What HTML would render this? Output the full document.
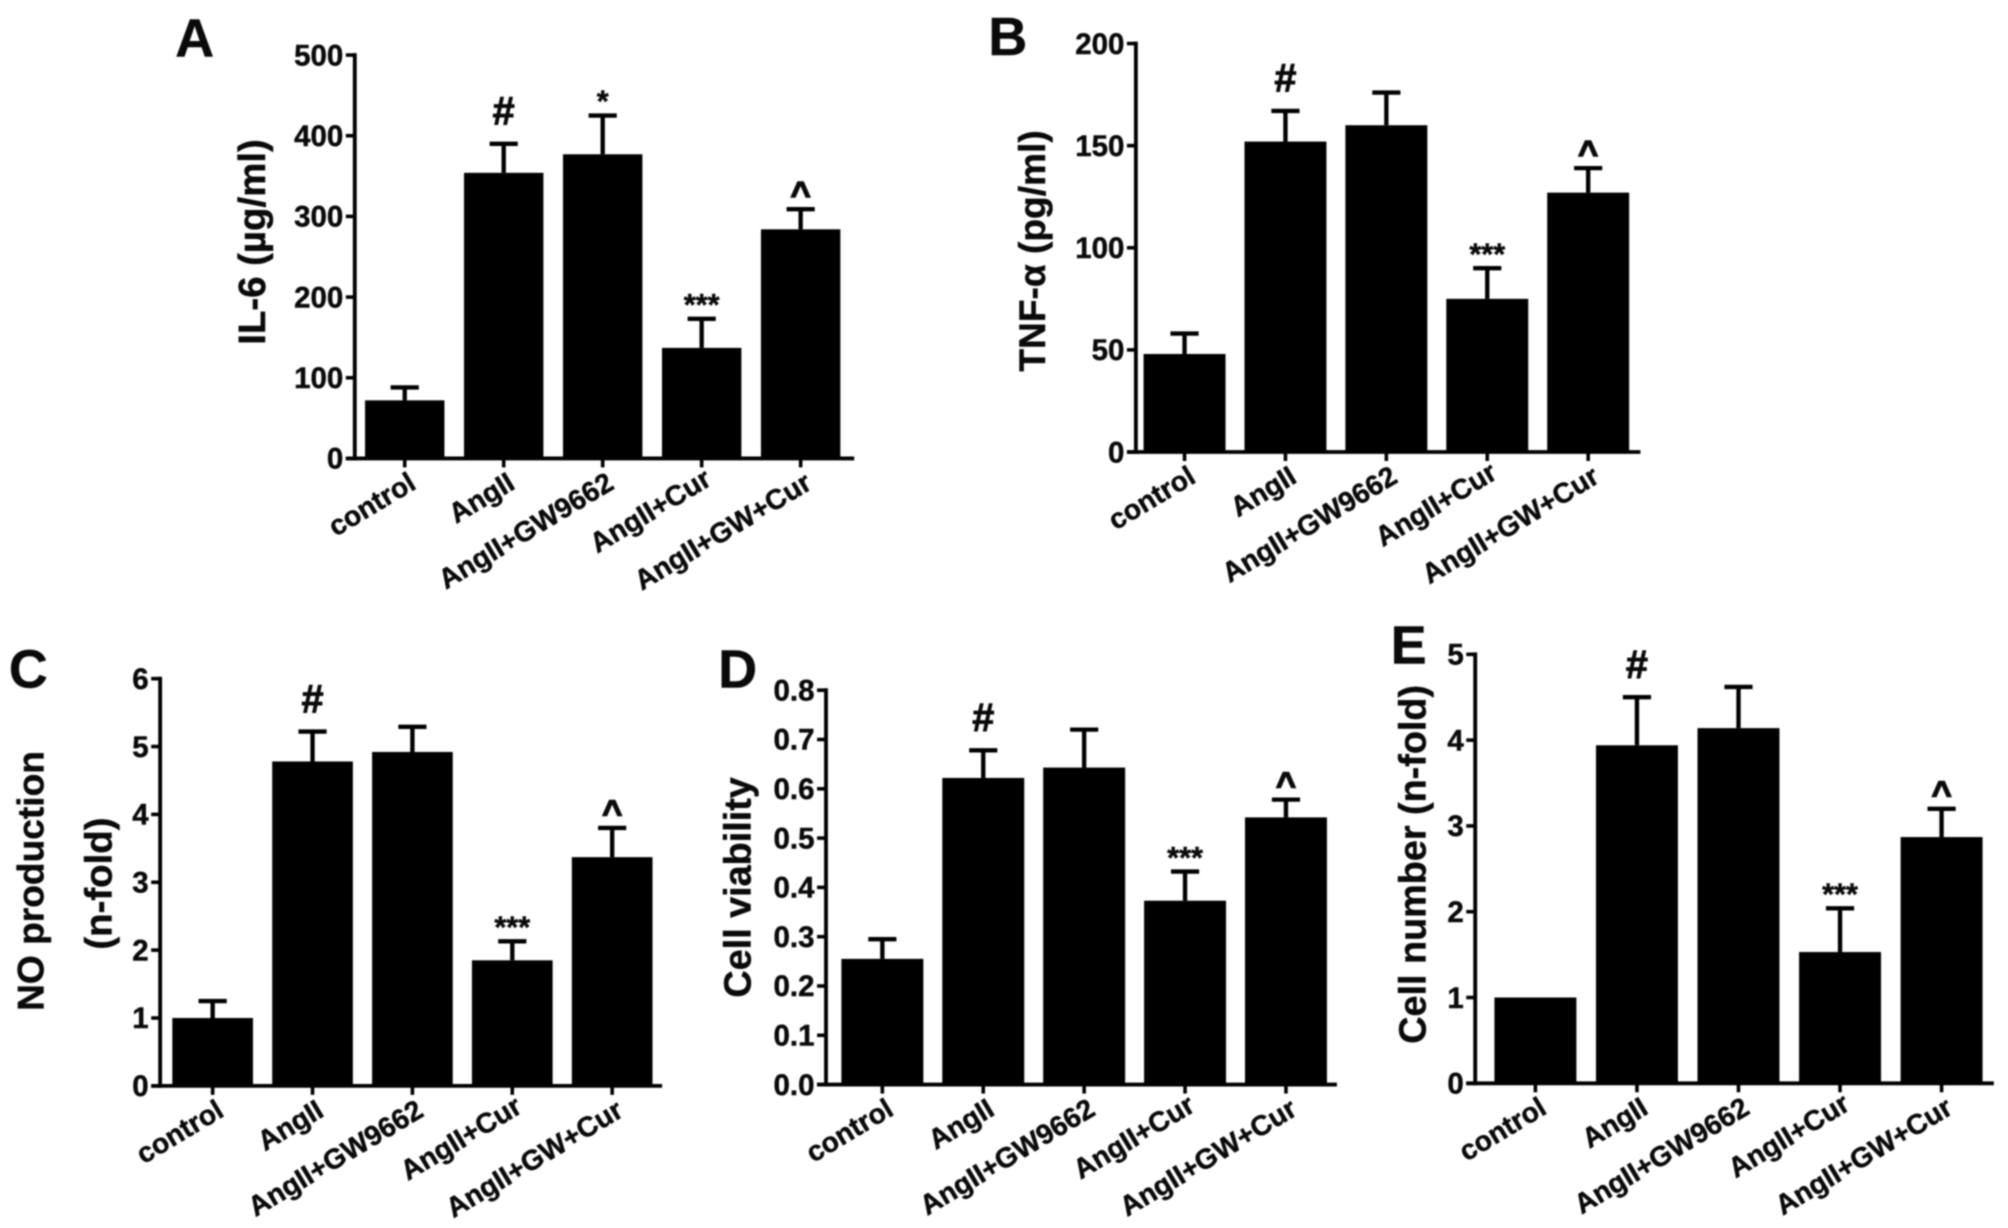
<!DOCTYPE html>
<html>
<head>
<meta charset="utf-8">
<title>Five panel bar charts</title>
<style>
html,body{margin:0;padding:0;background:#fff;}
svg{display:block;filter:blur(0.7px);}
text{font-family:"Liberation Sans",sans-serif;font-weight:bold;fill:#0a0a0a;stroke:#0a0a0a;stroke-width:0.35px;}
</style>
</head>
<body>
<svg id="figure" xmlns="http://www.w3.org/2000/svg" width="2008" height="1228" viewBox="0 0 1568 959"></svg>
<script>
const categories = ["control","AngII","AngII+GW9662","AngII+Cur","AngII+GW+Cur"];

const valuesA = [72,354,377,137,284];
const errorTopsA = [88,390,425,173,309];
const marksA = ["","#","*","***","^"];
const ticksA = ["0","100","200","300","400","500"];

const valuesB = [48,152,160,75,127];
const errorTopsB = [58,167,176,90,139];
const marksB = ["","#","","***","^"];
const ticksB = ["0","50","100","150","200"];

const valuesC = [1,4.78,4.92,1.85,3.37];
const errorTopsC = [1.25,5.22,5.29,2.13,3.8];
const marksC = ["","#","","***","^"];
const ticksC = ["0","1","2","3","4","5","6"];

const valuesD = [0.255,0.622,0.643,0.373,0.542];
const errorTopsD = [0.295,0.678,0.72,0.432,0.578];
const marksD = ["","#","","***","^"];
const ticksD = ["0.0","0.1","0.2","0.3","0.4","0.5","0.6","0.7","0.8"];

const valuesE = [1,3.94,4.14,1.53,2.87];
const errorTopsE = [1,4.5,4.62,2.04,3.2];
const marksE = ["","#","","***","^"];
const ticksE = ["0","1","2","3","4","5"];

const NS = "http://www.w3.org/2000/svg";
const root = document.getElementById("figure");

function make(tag, attrs, parent, txt) {
  const el = document.createElementNS(NS, tag);
  for (const k in attrs) el.setAttribute(k, attrs[k]);
  if (txt !== undefined) el.textContent = txt;
  parent.appendChild(el);
  return el;
}

function drawPanel(p) {
  const g = make("g", {}, root);
  
  

  const maxV = parseFloat(p.ticks[p.ticks.length - 1]);
  const y = v => p.y0 - (v / maxV) * (p.y0 - p.yTop);
  const x = i => p.x0 + i * p.step;

  const letter = make("text", {x: p.letter[0], y: p.letter[1], "font-size": 42, "text-anchor": "middle"}, g, p.id);
  
  

  p.title.forEach(function (t) {
    const title = make("text", {x: 0, y: 0, "font-size": t.size, "text-anchor": "middle",
      transform: "translate(" + t.x + "," + t.y + ") rotate(-90)"}, g, t.text);
    
    
  });

  p.values.forEach(function (v, i) {
    const bar = make("rect", {x: x(i) - p.barW / 2, y: y(v), width: p.barW, height: p.y0 - y(v), fill: "#000"}, g);
    
    

    if (p.errs[i] > v) {
      const stem = make("line", {x1: x(i), x2: x(i), y1: y(v), y2: y(p.errs[i]), stroke: "#000", "stroke-width": 3.4}, g);
      
      
      const cap = make("line", {x1: x(i) - 11, x2: x(i) + 11, y1: y(p.errs[i]), y2: y(p.errs[i]), stroke: "#000", "stroke-width": 3.4}, g);
      
      
    }

    const m = p.marks[i];
    if (m) {
      const size = m === "#" ? 31 : (m === "^" ? 27 : 24);
      const off = m === "#" ? 15 : 3;
      const mark = make("text", {x: x(i), y: y(p.errs[i]) - off, "font-size": size, "text-anchor": "middle",
        style: m === "^" ? "stroke-width:1.1px" : (m === "#" ? "stroke-width:0.7px" : "")}, g, m);
      
      
    }

    const tick = make("line", {x1: x(i), x2: x(i), y1: p.y0, y2: p.y0 + 7, stroke: "#000", "stroke-width": 2.8}, g);
    
    

    const isCur = categories[i] === "AngII+Cur";
    const lbl = make("text", {x: 0, y: 0, "font-size": 22, "text-anchor": "end",
      transform: "translate(" + (x(i) + (isCur ? 9 : 10)) + "," + (p.y0 + (isCur ? 20 : 23)) + ") rotate(-31)"}, g, categories[i]);
    
    
  });

  const yAxis = make("line", {x1: p.axisX, x2: p.axisX, y1: p.yTop - 1.5, y2: p.y0 + 1.5, stroke: "#000", "stroke-width": 3}, g);
  
  
  const xAxis = make("line", {x1: p.axisX - 7, x2: p.xEnd, y1: p.y0, y2: p.y0, stroke: "#000", "stroke-width": 3}, g);
  
  

  p.ticks.forEach(function (t) {
    const v = parseFloat(t);
    const tk = make("line", {x1: p.axisX - 7, x2: p.axisX, y1: y(v), y2: y(v), stroke: "#000", "stroke-width": 2.8}, g);
    
    
    const lb = make("text", {x: p.axisX - 9, y: y(v) + 8, "font-size": 23, "text-anchor": "end"}, g, t);
    
    
  });
}

drawPanel({id:"A", values:valuesA, errs:errorTopsA, marks:marksA, ticks:ticksA,
  axisX:277, xEnd:667, y0:358, yTop:43, x0:316, step:77.3, barW:62, letter:[152,44],
  title:[{text:"IL-6 (µg/ml)", x:207, y:189, size:30}]});
drawPanel({id:"B", values:valuesB, errs:errorTopsB, marks:marksB, ticks:ticksB,
  axisX:887, xEnd:1281, y0:353, yTop:34, x0:925, step:78.8, barW:64, letter:[787,43],
  title:[{text:"TNF-α (pg/ml)", x:816, y:196, size:29}]});
drawPanel({id:"C", values:valuesC, errs:errorTopsC, marks:marksC, ticks:ticksC,
  axisX:125, xEnd:517, y0:848, yTop:530, x0:166, step:78, barW:63, letter:[22,537],
  title:[{text:"NO production", x:34, y:688, size:29},{text:"(n-fold)", x:87, y:690, size:30}]});
drawPanel({id:"D", values:valuesD, errs:errorTopsD, marks:marksD, ticks:ticksD,
  axisX:645, xEnd:1044, y0:847, yTop:539, x0:689, step:78.8, barW:64, letter:[576,537],
  title:[{text:"Cell viability", x:586, y:693, size:29.5}]});
drawPanel({id:"E", values:valuesE, errs:errorTopsE, marks:marksE, ticks:ticksE,
  axisX:1152, xEnd:1557, y0:846, yTop:511, x0:1199, step:79.3, barW:64, letter:[1100,518],
  title:[{text:"Cell number (n-fold)", x:1113, y:675, size:29.5}]});
</script>
</body>
</html>
